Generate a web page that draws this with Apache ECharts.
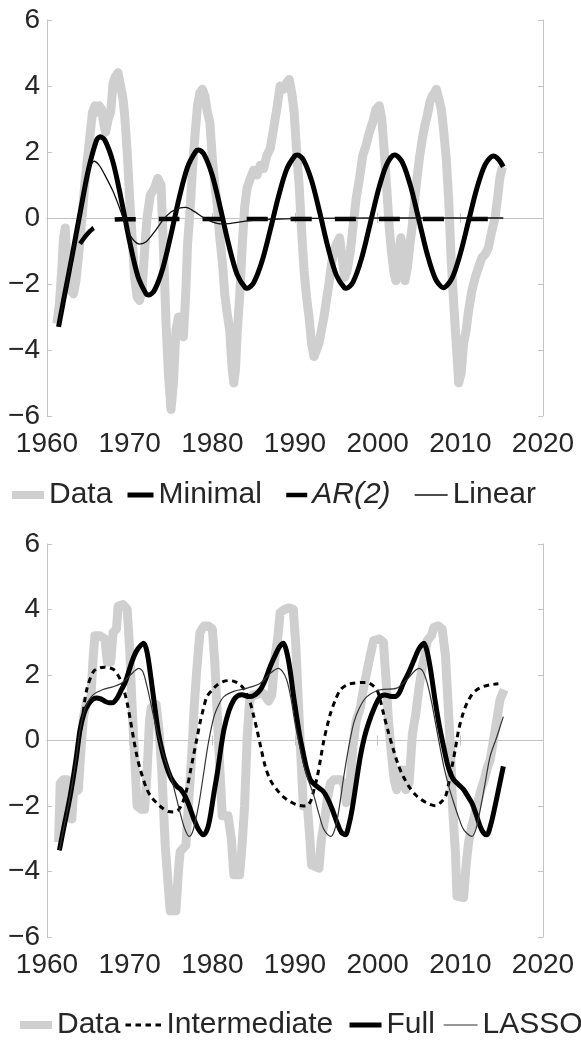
<!DOCTYPE html>
<html>
<head>
<meta charset="utf-8">
<title>Data vs models</title>
<script src="https://cdn.jsdelivr.net/npm/echarts@6/dist/echarts.min.js"></script>
<style>
  html, body { margin: 0; padding: 0; background: #fff; }
  #chart { width: 581px; height: 1041px; }
</style>
</head>
<body>
<div id="chart"></div>
<script>
// ---- values: [year, value] ----
var dataTop = [
  [1961.2,-3.2],[1961.5,-2.6],[1961.8,-1.5],[1962.0,-0.6],[1962.2,-0.3],[1962.4,-1.2],[1962.6,-1.8],
  [1962.9,-2.2],[1963.2,-2.3],[1963.5,-1.9],[1963.8,-1.2],[1964.0,-0.6],[1964.3,0.2],[1964.6,1.1],
  [1964.9,1.8],[1965.2,2.5],[1965.5,3.2],[1965.8,3.4],[1966.0,3.2],[1966.3,3.4],[1966.6,3.3],
  [1966.9,2.8],[1967.1,2.6],[1967.4,3.0],[1967.7,3.2],[1968.0,4.1],[1968.3,4.3],[1968.6,4.4],
  [1968.9,4.0],[1969.2,3.6],[1969.4,3.1],[1969.7,2.0],[1970.0,0.6],[1970.3,-0.6],[1970.6,-1.8],
  [1970.9,-2.4],[1971.2,-2.5],[1971.5,-2.2],[1971.8,-1.0],[1972.1,0.0],[1972.5,0.7],[1973.0,0.9],
  [1973.4,1.2],[1973.8,1.0],[1974.1,-1.0],[1974.4,-3.2],[1974.7,-4.8],[1975.0,-5.8],[1975.3,-5.0],
  [1975.6,-3.4],[1975.9,-3.0],[1976.2,-3.3],[1976.5,-3.6],[1976.8,-2.2],[1977.0,-0.8],[1977.3,0.2],
  [1977.6,1.5],[1977.9,2.5],[1978.2,3.4],[1978.5,3.8],[1978.8,3.9],[1979.1,3.7],[1979.4,3.2],
  [1979.7,2.9],[1980.0,1.8],[1980.3,1.0],[1980.6,0.4],[1980.9,-0.6],[1981.2,-1.3],[1981.5,-2.3],
  [1981.8,-2.9],[1982.1,-3.4],[1982.4,-4.6],[1982.6,-5.0],[1982.8,-4.6],[1983.0,-3.5],[1983.3,-2.4],
  [1983.6,-0.9],[1983.9,0.3],[1984.2,0.9],[1984.6,1.2],[1985.0,1.45],[1985.4,1.3],[1985.8,1.6],
  [1986.2,1.5],[1986.6,1.9],[1987.0,2.1],[1987.4,2.7],[1987.8,3.3],[1988.2,4.0],[1988.6,3.9],
  [1989.0,4.1],[1989.3,4.2],[1989.6,3.8],[1989.9,3.2],[1990.2,2.0],[1990.5,1.0],[1990.8,-0.4],
  [1991.1,-1.6],[1991.4,-2.4],[1991.7,-3.0],[1992.0,-3.8],[1992.3,-4.2],[1992.6,-4.0],[1992.9,-3.8],
  [1993.2,-3.4],[1993.5,-3.0],[1993.8,-2.5],[1994.1,-2.0],[1994.4,-1.4],[1994.7,-1.0],[1995.0,-0.8],
  [1995.4,-0.6],[1995.7,-1.2],[1996.0,-1.8],[1996.3,-1.6],[1996.7,-1.0],[1997.0,-0.3],[1997.4,0.6],
  [1997.8,1.2],[1998.2,1.9],[1998.6,2.2],[1999.0,2.6],[1999.4,2.9],[1999.8,3.3],[2000.2,3.4],
  [2000.5,3.0],[2000.8,2.0],[2001.1,0.9],[2001.4,-0.3],[2001.7,-1.1],[2002.0,-1.7],[2002.2,-1.9],
  [2002.5,-1.2],[2002.8,-0.6],[2003.0,-0.8],[2003.3,-1.9],[2003.6,-1.5],[2003.9,-0.8],[2004.2,-0.2],
  [2004.5,0.6],[2004.8,1.3],[2005.1,1.9],[2005.4,2.4],[2005.7,2.8],[2006.0,3.1],[2006.3,3.5],
  [2006.6,3.7],[2006.9,3.8],[2007.1,3.9],[2007.4,3.6],[2007.7,3.3],[2008.0,2.6],[2008.3,1.8],
  [2008.6,0.5],[2008.9,-1.3],[2009.2,-2.6],[2009.5,-3.8],[2009.8,-5.0],[2010.1,-4.7],[2010.4,-3.8],
  [2010.7,-3.4],[2011.0,-2.8],[2011.4,-2.2],[2011.8,-1.8],[2012.2,-1.5],[2012.6,-1.2],[2013.0,-1.1],
  [2013.4,-0.9],[2013.8,-0.4],[2014.2,0.0],[2014.5,0.6],[2014.8,1.25],[2015.1,1.55]
];

var minimalTop = [
  [1961.4,-3.3],[1962,-2.5],[1963,-1.2],[1964,0.15],[1965,1.45],[1966,2.36],[1966.45,2.46],
  [1967,2.36],[1968,1.68],[1969,0.54],[1970,-0.72],[1971,-1.77],[1972,-2.30],[1972.3,-2.33],
  [1973,-2.19],[1974,-1.53],[1975,-0.50],[1976,0.62],[1977,1.54],[1978,2.02],[1978.35,2.06],
  [1979,1.93],[1980,1.29],[1981,0.27],[1982,-0.83],[1983,-1.71],[1984,-2.12],[1984.2,-2.13],
  [1985,-1.96],[1986,-1.32],[1987,-0.37],[1988,0.65],[1989,1.48],[1990,1.89],[1990.3,1.91],
  [1991,1.77],[1992,1.14],[1993,0.16],[1994,-0.90],[1995,-1.73],[1996,-2.12],[1996.2,-2.13],
  [1997,-1.95],[1998,-1.27],[1999,-0.27],[2000,0.77],[2001,1.57],[2002,1.91],[2002.1,1.91],
  [2003,1.68],[2004,0.95],[2005,-0.07],[2006,-1.10],[2007,-1.85],[2007.95,-2.11],
  [2009,-1.82],[2010,-1.08],[2011,-0.09],[2012,0.90],[2013,1.62],[2014,1.88],[2014.6,1.78],[2015.2,1.55]
];

var ar2Top = [
  [1964.0,-0.78],[1964.5,-0.6],[1965.0,-0.45],[1965.5,-0.33],[1966.0,-0.25],[1966.5,-0.17],
  [1967.0,-0.11],[1967.5,-0.07],[1968.0,-0.05],[1969,-0.04],[1975,-0.03],[2015.2,-0.03]
];

var linearTop = [
  [1961.4,-3.3],[1962,-2.5],[1963,-1.2],[1964,0.1],[1964.6,0.9],[1965.1,1.45],[1965.7,1.72],
  [1966.3,1.6],[1967,1.3],[1968,0.8],[1969,0.15],[1969.7,-0.36],[1970.4,-0.65],[1971.2,-0.79],
  [1972,-0.72],[1973,-0.42],[1974,-0.07],[1975,0.18],[1976,0.3],[1976.8,0.32],[1977.8,0.2],
  [1979,0.0],[1980,-0.12],[1981,-0.18],[1982,-0.17],[1983,-0.13],[1985,-0.07],[1988,-0.03],
  [1992,-0.01],[2000,0.0],[2015.2,0.0]
];

var dataBottom = [
  [1961.4,-3.1],[1961.6,-1.3],[1962.0,-1.2],[1962.4,-1.2],[1962.6,-2.3],[1963.0,-2.4],[1963.2,-1.6],
  [1963.8,-1.5],[1964.1,-0.3],[1964.4,0.7],[1964.8,1.2],[1965.3,1.3],[1965.6,2.6],[1965.8,3.2],
  [1966.4,3.2],[1967.0,3.1],[1967.3,2.4],[1967.7,2.4],[1968.0,3.3],[1968.4,3.4],[1968.6,4.1],
  [1969.2,4.15],[1969.7,4.0],[1970.0,2.8],[1970.3,1.0],[1970.6,-0.5],[1970.9,-2.0],[1971.4,-2.1],
  [1971.8,-2.1],[1972.1,-1.0],[1972.4,0.6],[1972.6,1.0],[1973.2,1.1],[1973.6,0.2],[1973.9,-1.0],
  [1974.3,-3.2],[1974.6,-4.2],[1974.9,-5.2],[1975.6,-5.2],[1975.9,-4.0],[1976.1,-3.4],[1976.8,-3.2],
  [1977.1,-2.0],[1977.5,-0.5],[1977.8,1.0],[1978.1,2.1],[1978.5,3.3],[1979.0,3.5],[1979.5,3.5],
  [1980.0,3.4],[1980.3,2.4],[1980.6,0.8],[1980.9,-0.8],[1981.2,-2.3],[1981.9,-2.3],[1982.3,-3.0],
  [1982.6,-4.1],[1983.3,-4.1],[1983.6,-3.2],[1983.9,-2.0],[1984.2,0.0],[1984.5,1.2],[1984.9,1.4],
  [1985.4,1.4],[1985.8,1.5],[1986.3,1.4],[1986.8,1.2],[1987.2,1.4],[1987.6,2.6],[1987.9,3.1],
  [1988.2,3.9],[1988.7,4.0],[1989.3,4.05],[1989.8,4.0],[1990.1,2.9],[1990.4,1.2],[1990.7,-0.4],
  [1991.0,-2.0],[1991.5,-2.0],[1991.8,-3.0],[1992.0,-3.8],[1992.9,-3.9],[1993.2,-3.0],[1993.6,-2.4],
  [1993.9,-1.8],[1994.3,-1.3],[1994.7,-1.2],[1995.5,-1.2],[1995.9,-1.3],[1996.2,-1.9],[1996.6,-1.5],
  [1997.0,-0.2],[1997.4,0.6],[1997.9,1.0],[1998.3,1.6],[1998.7,2.1],[1999.1,2.6],[1999.5,3.05],
  [2000.2,3.1],[2000.7,3.0],[2001.0,1.9],[2001.3,0.6],[2001.7,-0.5],[2002.0,-1.2],[2002.3,-1.5],
  [2002.7,-0.9],[2003.1,-0.9],[2003.4,-1.5],[2003.8,-1.3],[2004.2,0.2],[2004.6,0.8],[2005.0,1.6],
  [2005.3,2.1],[2005.7,2.6],[2006.0,3.05],[2006.5,3.2],[2006.8,3.45],[2007.3,3.5],[2007.8,3.4],
  [2008.2,2.6],[2008.5,1.2],[2008.8,-0.2],[2009.1,-2.2],[2009.4,-3.4],[2009.6,-4.75],[2010.4,-4.8],
  [2010.7,-3.8],[2011.0,-3.1],[2011.4,-2.6],[2011.7,-2.3],[2012.1,-1.9],[2012.5,-1.5],[2012.9,-1.2],
  [2013.3,-0.8],[2013.6,-0.6],[2014.0,0.0],[2014.4,0.6],[2014.8,1.25],[2015.3,1.55]
];

var intermediateBottom = [
  [1961.5,-3.35],[1962.0,-2.7],[1962.8,-1.7],[1963.5,-0.6],[1964.2,0.53],[1964.8,1.55],[1965.6,2.1],
  [1966.2,2.2],[1966.9,2.24],[1967.5,2.22],[1968.1,2.16],[1968.9,1.85],[1969.3,1.55],[1969.7,1.14],
  [1970.1,0.6],[1970.5,0.02],[1970.9,-0.5],[1971.3,-0.9],[1972.1,-1.5],[1972.7,-1.75],[1973.3,-1.91],
  [1974.0,-2.07],[1974.7,-2.17],[1975.3,-2.18],[1975.9,-2.12],[1976.4,-1.9],[1976.9,-1.5],[1977.3,-1.0],
  [1977.7,-0.49],[1978.1,0.02],[1978.5,0.53],[1978.9,0.95],[1979.35,1.34],[1980.0,1.55],[1980.6,1.7],
  [1981.3,1.8],[1982.0,1.83],[1982.7,1.8],[1983.4,1.7],[1984.0,1.5],[1984.6,1.14],[1985.0,0.75],
  [1985.4,0.33],[1985.9,-0.25],[1986.4,-0.79],[1987.0,-1.2],[1987.8,-1.5],[1988.6,-1.72],[1989.4,-1.86],
  [1990.2,-1.96],[1991.0,-2.0],[1991.5,-1.98],[1991.9,-1.85],[1992.3,-1.5],[1992.7,-1.1],[1993.1,-0.55],
  [1993.5,0.02],[1993.9,0.45],[1994.3,0.83],[1994.9,1.25],[1995.5,1.55],[1996.3,1.7],[1997.1,1.75],
  [1998.0,1.77],[1998.7,1.77],[1999.3,1.7],[1999.9,1.55],[2000.3,1.25],[2000.7,0.83],[2001.3,0.25],
  [2001.9,-0.28],[2002.5,-0.75],[2003.1,-1.1],[2003.9,-1.45],[2004.8,-1.71],[2005.9,-1.9],[2007.0,-1.99],
  [2007.6,-1.9],[2008.2,-1.71],[2008.6,-1.3],[2009.0,-0.79],[2009.4,-0.25],[2009.8,0.33],[2010.3,0.8],
  [2010.8,1.14],[2011.4,1.4],[2012.0,1.55],[2012.8,1.65],[2013.6,1.7],[2014.6,1.73]
];

var fullBottom = [
  [1961.5,-3.35],[1962.0,-2.7],[1962.8,-1.7],[1963.5,-0.6],[1964.0,0.33],[1964.5,0.85],[1965.0,1.1],
  [1965.5,1.25],[1966.0,1.3],[1966.5,1.27],[1967.0,1.2],[1967.5,1.15],[1968.0,1.16],[1968.5,1.3],
  [1969.0,1.55],[1969.5,1.8],[1970.0,2.2],[1970.5,2.56],[1971.0,2.8],[1971.7,2.97],[1972.1,2.7],
  [1972.5,2.05],[1973.0,1.1],[1973.5,0.2],[1974.1,-0.48],[1974.9,-1.09],[1975.7,-1.4],[1976.2,-1.5],
  [1976.7,-1.7],[1977.2,-2.0],[1977.7,-2.35],[1978.3,-2.7],[1978.95,-2.88],[1979.4,-2.7],[1979.75,-2.32],
  [1980.2,-1.6],[1980.6,-1.0],[1981.0,-0.3],[1981.4,0.33],[1982.0,0.9],[1982.6,1.24],[1983.1,1.37],
  [1983.6,1.4],[1984.1,1.36],[1984.6,1.34],[1985.2,1.4],[1985.8,1.55],[1986.4,1.85],[1987.0,2.26],
  [1987.6,2.6],[1988.1,2.85],[1988.6,2.97],[1989.0,2.7],[1989.4,2.16],[1989.8,1.4],[1990.2,0.73],
  [1990.6,0.1],[1991.0,-0.39],[1991.4,-0.85],[1991.85,-1.2],[1992.4,-1.35],[1992.9,-1.45],[1993.4,-1.55],
  [1993.9,-1.75],[1994.5,-2.1],[1995.1,-2.52],[1995.6,-2.8],[1996.1,-2.88],[1996.5,-2.6],[1996.9,-2.12],
  [1997.4,-1.3],[1997.9,-0.49],[1998.4,0.1],[1998.9,0.53],[1999.6,1.0],[2000.3,1.34],[2000.9,1.39],
  [2001.5,1.35],[2002.1,1.34],[2002.6,1.45],[2003.1,1.75],[2003.8,2.1],[2004.4,2.46],[2005.0,2.8],
  [2005.6,2.97],[2006.0,2.7],[2006.4,2.16],[2006.9,1.3],[2007.4,0.53],[2007.9,-0.1],[2008.4,-0.68],
  [2008.8,-1.0],[2009.2,-1.2],[2009.8,-1.35],[2010.4,-1.5],[2010.9,-1.7],[2011.4,-1.91],[2011.9,-2.25],
  [2012.4,-2.62],[2012.8,-2.82],[2013.2,-2.88],[2013.7,-2.55],[2014.2,-2.0],[2014.7,-1.4],[2015.2,-0.79]
];

var lassoBottom = [
  [1961.5,-3.35],[1962.0,-2.7],[1962.8,-1.7],[1963.5,-0.6],[1964.0,0.33],[1964.5,0.9],[1965.0,1.2],
  [1965.6,1.4],[1966.7,1.55],[1968.1,1.65],[1969.0,1.75],[1969.7,1.9],[1970.5,2.1],[1971.1,2.2],
  [1971.6,2.1],[1972.1,1.65],[1972.5,1.2],[1972.9,0.73],[1973.4,0.2],[1973.9,-0.28],[1974.5,-0.75],
  [1975.1,-1.2],[1975.6,-1.7],[1976.1,-2.2],[1976.6,-2.65],[1977.2,-2.93],[1977.6,-2.8],[1977.9,-2.52],
  [1978.4,-1.9],[1978.95,-1.0],[1979.5,-0.1],[1980.2,0.73],[1980.8,1.1],[1981.4,1.34],[1982.6,1.5],
  [1984.2,1.6],[1985.8,1.75],[1987.0,2.05],[1988.0,2.2],[1988.5,2.1],[1989.0,1.85],[1989.5,1.3],
  [1990.0,0.53],[1990.5,-0.1],[1991.0,-0.7],[1991.6,-1.2],[1992.3,-1.7],[1992.9,-2.25],[1993.5,-2.72],
  [1994.3,-2.93],[1994.7,-2.8],[1995.1,-2.42],[1995.5,-1.8],[1995.9,-1.1],[1996.5,-0.2],[1997.1,0.53],
  [1997.8,1.0],[1998.7,1.34],[2000.3,1.55],[2002.3,1.6],[2003.5,1.85],[2005.0,2.2],[2005.5,2.1],
  [2006.0,1.75],[2006.5,1.2],[2007.0,0.53],[2007.5,-0.15],[2008.0,-0.79],[2008.6,-1.4],[2009.2,-1.9],
  [2009.8,-2.35],[2010.4,-2.72],[2011.4,-2.93],[2011.9,-2.7],[2012.4,-2.12],[2013.0,-1.3],[2013.6,-0.49],
  [2014.4,0.1],[2015.2,0.73]
];

var xRange = [1960, 2020];
var yRange = [-6, 6];

// ---- drawing ----
var FONT = "'Liberation Sans', Arial, sans-serif";
var TEXT = '#262626';
var BOX = '#c4c4c4';
var GREY = '#cfcfcf';

function axisPair(dir, gridIndex) {
  var isX = dir === 'x';
  var r = isX ? xRange : yRange;
  var base = {
    type: 'value', gridIndex: gridIndex, min: r[0], max: r[1], interval: isX ? 10 : 2,
    splitLine: { show: false },
    axisLine: { show: true, lineStyle: { color: BOX, width: 1 } },
    axisTick: { show: true, inside: true, length: 5, lineStyle: { color: BOX } }
  };
  var main = Object.assign({}, base, {
    position: isX ? 'bottom' : 'left',
    axisLabel: {
      show: true, color: TEXT, fontSize: 28, fontFamily: FONT, margin: isX ? 14 : 7,
      formatter: function (v) { return v < 0 ? '\u2212' + (-v) : String(v); }
    }
  });
  var mirror = Object.assign({}, base, {
    position: isX ? 'top' : 'right',
    axisLabel: { show: false }
  });
  return [main, mirror];
}

function lineSeries(name, data, axis, color, width, extra) {
  return Object.assign({
    name: name, type: 'line', data: data, xAxisIndex: axis, yAxisIndex: axis,
    symbol: 'none', animation: false,
    lineStyle: { color: color, width: width, join: 'round' },
    itemStyle: { color: color }
  }, extra || {});
}

// one legend per entry so each swatch sits where the reference has it
function legendItem(name, left, top, w, lw, italic) {
  return {
    data: [name], left: left, top: top, padding: 0, itemWidth: w, itemHeight: 14,
    selectedMode: false,
    itemStyle: { opacity: 0 },
    lineStyle: { width: lw },
    textStyle: { color: TEXT, fontSize: 30, fontFamily: FONT, fontStyle: italic ? 'italic' : 'normal' }
  };
}

var xa = axisPair('x', 0).concat(axisPair('x', 1));
var ya = axisPair('y', 0).concat(axisPair('y', 1));

var option = {
  animation: false,
  backgroundColor: '#fff',
  grid: [
    { left: 47, top: 20, width: 496, height: 396 },
    { left: 47, top: 544, width: 496, height: 393 }
  ],
  xAxis: xa,
  yAxis: ya,
  legend: [
    legendItem('Data', 8, 480, 32, 8),
    legendItem('Minimal', 125, 480, 26, 5),
    legendItem('AR(2)', 284, 480, 21, 4.5, true),
    legendItem('Linear', 414, 480, 33, 1.3),
    legendItem('Data', 16, 1010, 32, 8),
    legendItem('Intermediate', 124, 1010, 36, 3),
    legendItem('Full', 347, 1010, 32, 5),
    legendItem('LASSO', 443, 1010, 34, 1.2)
  ],
  series: [
    lineSeries('Data', dataTop, 0, GREY, 9, { z: 1 }),
    lineSeries('Minimal', minimalTop, 0, '#000', 5, { smooth: 0.3, z: 3 }),
    lineSeries('AR(2)', ar2Top, 0, '#000', 4.5, { smooth: 0.3, z: 3,
      lineStyle: { color: '#000', width: 4.5, type: [21, 23], cap: 'butt' } }),
    lineSeries('Linear', linearTop, 0, '#111', 1.3, { smooth: 0.3, z: 4 }),

    lineSeries('Data', dataBottom, 2, GREY, 9, { z: 1 }),
    lineSeries('Intermediate', intermediateBottom, 2, '#000', 3, { smooth: 0.3, z: 3,
      lineStyle: { color: '#000', width: 3, type: [5.5, 4.5], cap: 'butt' } }),
    lineSeries('Full', fullBottom, 2, '#000', 5, { smooth: 0.3, z: 3 }),
    lineSeries('LASSO', lassoBottom, 2, '#333', 1.2, { smooth: 0.3, z: 4 })
  ]
};

var chart = echarts.init(document.getElementById('chart'));
chart.setOption(option);
</script>
</body>
</html>
